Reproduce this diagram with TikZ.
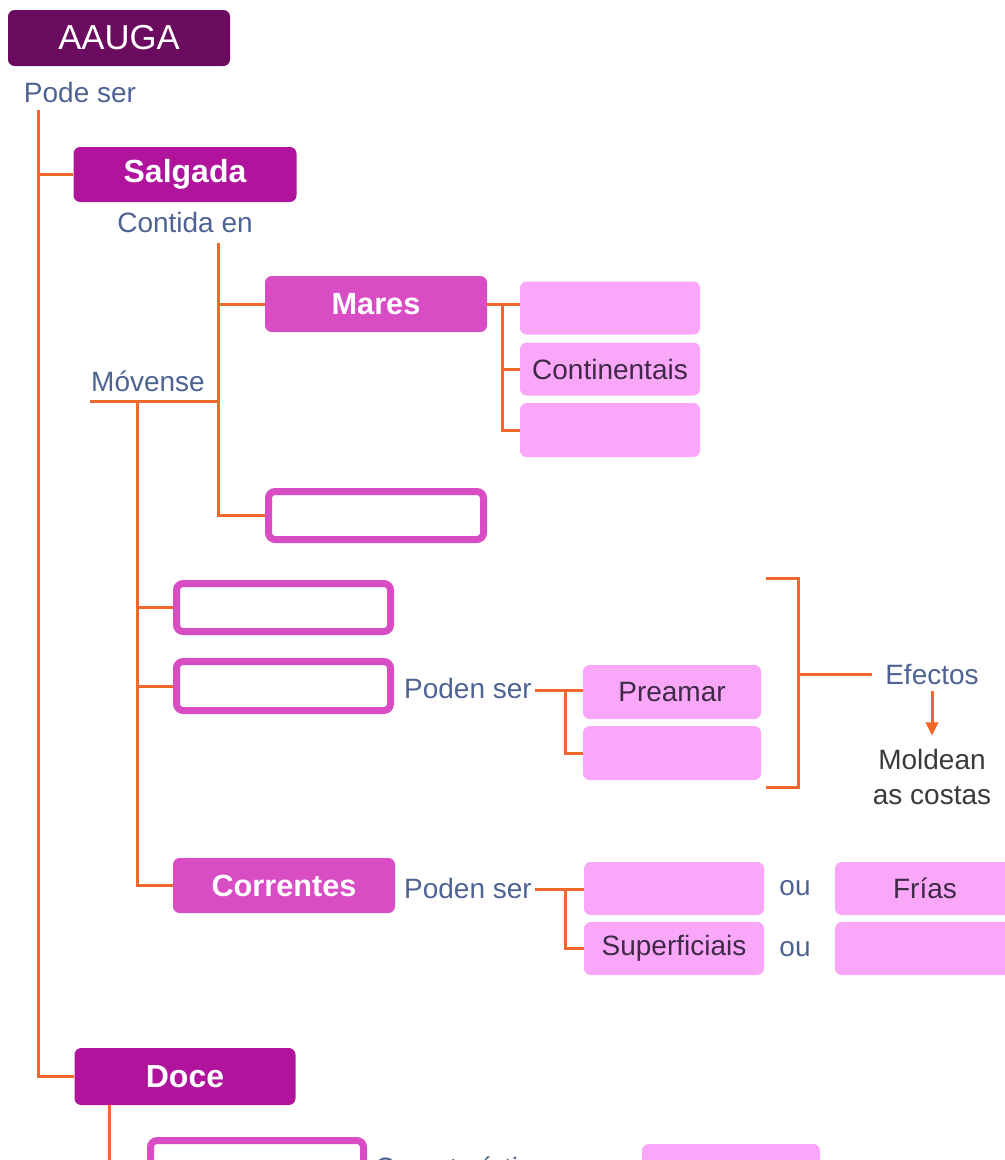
\documentclass[tikz,border=0pt]{standalone}
\usepackage{fontspec}
\setmainfont{Liberation Sans}
\usetikzlibrary{arrows.meta}
\definecolor{dpurple}{HTML}{6B0B60}
\definecolor{mpurple}{HTML}{B0149C}
\definecolor{magen}{HTML}{D84CC4}
\definecolor{lpink}{HTML}{FBA7F9}
\definecolor{orng}{HTML}{F0682A}
\definecolor{lblue}{HTML}{4E6393}
\definecolor{dtext}{HTML}{3E2A46}
\definecolor{dgray}{HTML}{3A3A3A}
\begin{document}
\begin{tikzpicture}[x=0.75pt,y=-0.75pt,
  wh/.style 2 args={minimum width=#1*0.75pt, minimum height=#2*0.75pt},
  boxbase/.style={rounded corners=5pt, inner sep=0pt, align=center},
  darkbox/.style={boxbase, fill=dpurple, text=white, font=\fontsize{26}{30}\selectfont},
  midbox/.style={boxbase, fill=mpurple, text=white, font=\bfseries\fontsize{24}{28}\selectfont},
  magbox/.style={boxbase, fill=magen, text=white, font=\bfseries\fontsize{23}{27}\selectfont},
  outbox/.style={boxbase, draw=magen, line width=5.25pt, fill=white},
  pinkbox/.style={boxbase, fill=lpink, text=dtext, font=\fontsize{21}{25}\selectfont},
  lbl/.style={text=lblue, font=\fontsize{21}{25}\selectfont, inner sep=2pt},
  conn/.style={draw=orng, line width=2.25pt},
  arr/.style={conn, -{Triangle[length=10pt,width=9pt]}},
]
\useasboundingbox (0,0) rectangle (1005,1160);
\clip (0,0) rectangle (1005,1160);

% nodes
\node[darkbox, wh={222}{56}] (aauga) at (119,38) {AAUGA};
\node[lbl] (podeser) at (80,92) {Pode ser};
\node[midbox, wh={223}{55}] (salgada) at (185,174.5) {Salgada};
\node[lbl] (contida) at (185,222) {Contida en};
\node[magbox, wh={222}{56}] (mares) at (376,304) {Mares};
\node[pinkbox, wh={180}{53}] (ma1) at (610,308) {};
\node[pinkbox, wh={180}{53}] (ma2) at (610,369) {Continentais};
\node[pinkbox, wh={180}{54}] (ma3) at (610,430) {};
\node[lbl] (movense) at (148,381) {Móvense};
\node[outbox, wh={215}{48}] (e1) at (376,515.5) {};
\node[outbox, wh={214}{48}] (e2) at (283.5,607.5) {};
\node[outbox, wh={214}{49}] (e3) at (283.5,686) {};
\node[lbl] (ps1) at (468,688) {Poden ser};
\node[pinkbox, wh={178}{54}] (pre) at (672,692) {Preamar};
\node[pinkbox, wh={178}{54}] (ti2) at (672,753) {};
\node[lbl] (efectos) at (932,674) {Efectos};
\node[text=dgray, font=\fontsize{21}{26}\selectfont, align=center, inner sep=2pt] (moldean) at (932,777) {Moldean\\as costas};
\node[magbox, wh={222}{55}] (corr) at (284,885.5) {Correntes};
\node[lbl] (ps2) at (468,888) {Poden ser};
\node[pinkbox, wh={180}{53}] (c1) at (674,888.5) {};
\node[pinkbox, wh={180}{53}] (c2) at (674,948.5) {Superficiais};
\node[lbl] (ou1) at (795,888) {ou};
\node[lbl] (ou2) at (795,949) {ou};
\node[pinkbox, wh={180}{53}] (c3) at (925,888.5) {Frías};
\node[pinkbox, wh={180}{53}] (c4) at (925,948.5) {};
\node[midbox, wh={221}{57}] (doce) at (185,1076.5) {Doce};
\node[outbox, wh={213}{48}] (d1) at (257,1164.5) {};
\node[lbl, anchor=west] (carac) at (372,1167) {Características};
\node[pinkbox, wh={178}{53}] (d2) at (731,1170.5) {};

% connectors
\coordinate (m0) at (38,110);
\draw[conn] (m0) |- (salgada.west);
\draw[conn] (m0) |- (doce.west);
\coordinate (c0) at (218,243);
\draw[conn] (c0) |- (mares.west);
\draw[conn] (c0) |- (e1.west);
\coordinate (u0) at (90,401);
\coordinate (u1) at (218,401);
\draw[conn] (u0) -- (u1);
\coordinate (mv) at (137,401);
\draw[conn] (mv) |- (e2.west);
\draw[conn] (mv) |- (e3.west);
\draw[conn] (mv) |- (corr.west);
\coordinate (mj) at (502,304);
\draw[conn] (mares.east) -- (mares.east -| ma1.west);
\draw[conn] (mj) |- (ma2.west);
\draw[conn] (mj) |- (ma3.west);
\coordinate (pj1) at (565,690);
\draw[conn] (ps1.east |- pj1) -- (pj1 -| pre.west);
\draw[conn] (pj1) |- (ti2.west);
\coordinate (bt) at (766,578);
\coordinate (bm) at (798,674);
\coordinate (bb) at (766,787);
\draw[conn] (bt) -| (bm) |- (bb);
\draw[conn, shorten >=8pt] (bm) -- (efectos.west);
\draw[arr, shorten <=3pt, shorten >=8pt] (efectos.south) -- (moldean.north);
\coordinate (pj2) at (565,889);
\draw[conn] (ps2.east |- pj2) -- (pj2 -| c1.west);
\draw[conn] (pj2) |- (c2.west);
\coordinate (dj) at (109,1105);
\draw[conn] (dj) |- (d1.west);
\end{tikzpicture}
\end{document}
